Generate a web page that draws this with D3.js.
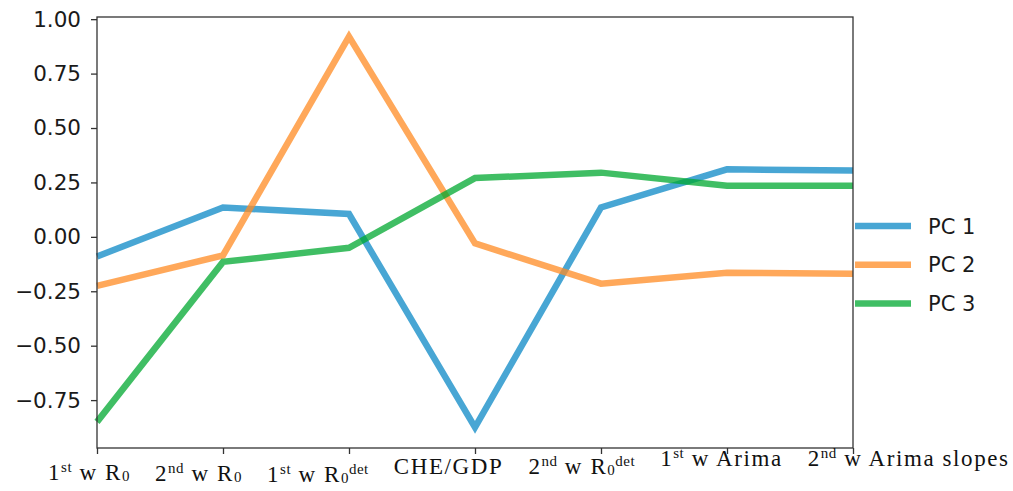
<!DOCTYPE html>
<html>
<head>
<meta charset="utf-8">
<script src="https://cdn.jsdelivr.net/npm/d3@7/dist/d3.min.js"></script>
<style>
  html, body { margin: 0; padding: 0; background: #fff; }
  svg { display: block; }
</style>
</head>
<body>
<script>
// ---- data ----
const categories = ["1st w R0", "2nd w R0", "1st w R0det", "CHE/GDP", "2nd w R0det", "1st w Arima", "2nd w Arima slopes"];
// rich tick labels: [text, kind] where kind is "n" normal, "sup", "sub"
const categoryLabels = [
  [["1", "n"], ["st", "sup"], [" w R", "n"], ["0", "sub"]],
  [["2", "n"], ["nd", "sup"], [" w R", "n"], ["0", "sub"]],
  [["1", "n"], ["st", "sup"], [" w R", "n"], ["0", "sub"], ["det", "sup"]],
  [["CHE/GDP", "n"]],
  [["2", "n"], ["nd", "sup"], [" w R", "n"], ["0", "sub"], ["det", "sup"]],
  [["1", "n"], ["st", "sup"], [" w Arima", "n"]],
  [["2", "n"], ["nd", "sup"], [" w Arima slopes", "n"]]
];
const seriesNames = ["PC 1", "PC 2", "PC 3"];
const pc1 = [-0.09, 0.135, 0.105, -0.875, 0.135, 0.31, 0.305];
const pc2 = [-0.225, -0.085, 0.92, -0.03, -0.215, -0.165, -0.17];
const pc3 = [-0.85, -0.115, -0.05, 0.27, 0.295, 0.235, 0.235];
const yTicks = [-0.75, -0.5, -0.25, 0, 0.25, 0.5, 0.75, 1.0];
const yDomain = [-0.97, 1.01];

const colors = ["#0b88c6", "#ff8b23", "#00a830"];

// ---- layout ----
const W = 1013, H = 491;
const plot = { left: 97, right: 853, top: 17, bottom: 448 };

const svg = d3.select("body").append("svg").attr("width", W).attr("height", H);

const x = d3.scaleLinear().domain([0, categories.length - 1]).range([plot.left, plot.right]);
const y = d3.scaleLinear().domain(yDomain).range([plot.bottom, plot.top]);

// lines
const series = [pc1, pc2, pc3];
const line = d3.line().x((d, i) => x(i)).y(d => y(d));
const gLines = svg.append("g");
series.forEach((s, k) => {
  gLines.append("path")
    .datum(s)
    .attr("d", line)
    .attr("fill", "none")
    .attr("stroke", colors[k])
    .attr("stroke-opacity", 0.75)
    .attr("stroke-width", 6.5)
    .attr("stroke-linejoin", "miter");
});

// frame
svg.append("rect")
  .attr("x", plot.left).attr("y", plot.top)
  .attr("width", plot.right - plot.left).attr("height", plot.bottom - plot.top)
  .attr("fill", "none").attr("stroke", "#333").attr("stroke-width", 1.3);

// y axis
const fmt = v => (v < 0 ? "\u2212" : "") + d3.format(".2f")(Math.abs(v));
const yAxis = svg.append("g")
  .attr("transform", `translate(${plot.left},0)`)
  .call(d3.axisLeft(y).tickValues(yTicks).tickFormat(fmt).tickSize(6).tickPadding(10));
yAxis.select(".domain").remove();
yAxis.selectAll(".tick line").attr("stroke", "#333").attr("stroke-width", 1.3);
yAxis.selectAll(".tick text")
  .attr("font-family", "DejaVu Sans")
  .attr("font-size", 21.5)
  .attr("fill", "#1a1a1a");

// x axis ticks
const xAxis = svg.append("g")
  .attr("transform", `translate(0,${plot.bottom})`)
  .call(d3.axisBottom(x).tickValues(d3.range(categories.length)).tickFormat("").tickSize(6));
xAxis.select(".domain").remove();
xAxis.selectAll(".tick line").attr("stroke", "#333").attr("stroke-width", 1.3);

// x category labels (laid out as a single flowing line, as in the reference)
const labelRow = svg.append("text")
  .attr("x", 48)
  .attr("y", 480)
  .attr("font-family", "Liberation Serif, Times New Roman, serif")
  .attr("font-size", 23)
  .attr("letter-spacing", 1.6)
  .attr("fill", "#111")
  .style("white-space", "pre");
const gap = 25;
categoryLabels.forEach((segs, li) => {
  let shift = 0;
  segs.forEach((seg, si) => {
    const [txt, kind] = seg;
    const target = kind === "sup" ? -8 : kind === "sub" ? 1 : 0;
    const ts = labelRow.append("tspan")
      .text(txt)
      .attr("dy", target - shift)
      .attr("font-size", kind === "n" ? 23 : 15)
      .attr("letter-spacing", kind === "n" ? 1.6 : 0.5);
    if (si === 0 && li > 0) ts.attr("dx", gap);
    shift = target;
  });
  if (shift !== 0) {
    labelRow.append("tspan").text("").attr("dy", -shift);
  }
});

// legend
const legend = svg.append("g");
seriesNames.forEach((name, k) => {
  const ly = 226 + k * 38.7;
  legend.append("line")
    .attr("x1", 855).attr("x2", 911)
    .attr("y1", ly).attr("y2", ly)
    .attr("stroke", colors[k]).attr("stroke-opacity", 0.75)
    .attr("stroke-width", 6.5);
  legend.append("text")
    .attr("x", 928).attr("y", ly)
    .attr("dy", "0.36em")
    .attr("font-family", "DejaVu Sans")
    .attr("font-size", 21)
    .attr("fill", "#1a1a1a")
    .text(name);
});
</script>
</body>
</html>
